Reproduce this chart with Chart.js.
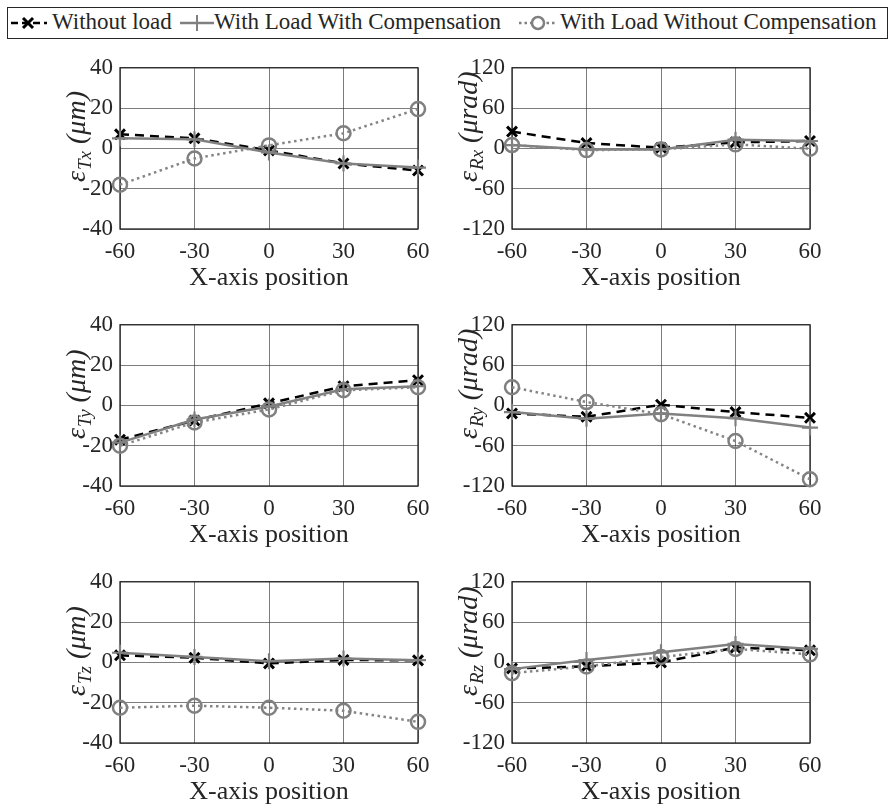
<!DOCTYPE html>
<html>
<head>
<meta charset="utf-8">
<script src="https://cdn.jsdelivr.net/npm/chart.js@4.4.0/dist/chart.umd.min.js"></script>
<style>
  body { margin: 0; background: #fff; }
  #page { position: relative; width: 891px; height: 808px; overflow: hidden; font-family: "Liberation Serif", "Times New Roman", Times, "DejaVu Serif", serif; color: #262626; }
  .cell { position: absolute; }
  #legend { position: absolute; left: 7px; top: 7px; width: 879px; height: 30px; border: 1px solid #262626; background: #fff; }
  .lg-item { position: absolute; top: -1px; height: 30px; line-height: 30px; font-size: 23px; white-space: nowrap; }
  .lg-item svg { position: absolute; top: 1px; }
</style>
</head>
<body>
<div id="page">
  <div id="legend">
    <div class="lg-item" style="left:2px"><svg width="38" height="30"><line x1="1" y1="15" x2="37" y2="15" stroke="#000" stroke-width="2.5" stroke-dasharray="7,4"/><line x1="13" y1="10" x2="23" y2="20" stroke="#000" stroke-width="3"/><line x1="23" y1="10" x2="13" y2="20" stroke="#000" stroke-width="3"/></svg></div>
    <div class="lg-item" style="left:44px">Without load</div>
    <div class="lg-item" style="left:171px"><svg width="36" height="30"><line x1="1" y1="15" x2="35" y2="15" stroke="#808080" stroke-width="2.5"/><line x1="18" y1="7" x2="18" y2="23" stroke="#808080" stroke-width="2"/></svg></div>
    <div class="lg-item" style="left:206px">With Load With Compensation</div>
    <div class="lg-item" style="left:510px"><svg width="40" height="30"><line x1="1" y1="15" x2="39" y2="15" stroke="#808080" stroke-width="2.5" stroke-dasharray="2.5,3"/><circle cx="20" cy="15" r="6" fill="#fff" stroke="#808080" stroke-width="2.5"/></svg></div>
    <div class="lg-item" style="left:552px">With Load Without Compensation</div>
  </div>
  <div class="cell" style="left:0px;top:47px;width:440px;height:256px"><canvas id="cTx"></canvas></div>
  <div class="cell" style="left:440px;top:47px;width:392px;height:256px"><canvas id="cRx"></canvas></div>
  <div class="cell" style="left:0px;top:304px;width:440px;height:256px"><canvas id="cTy"></canvas></div>
  <div class="cell" style="left:440px;top:304px;width:392px;height:256px"><canvas id="cRy"></canvas></div>
  <div class="cell" style="left:0px;top:561px;width:440px;height:256px"><canvas id="cTz"></canvas></div>
  <div class="cell" style="left:440px;top:561px;width:392px;height:256px"><canvas id="cRz"></canvas></div>
</div>
<script>
// X-axis positions
const positions = [-60, -30, 0, 30, 60];

// translational errors (um)
const txNoLoad = [7, 5, -1, -7.5, -11];
const txWithComp = [5, 4.5, -2, -7.5, -9.5];
const txWithoutComp = [-18, -5, 1.5, 7.5, 19.5];

const tyNoLoad = [-17, -7.5, 1, 9.5, 12.5];
const tyWithComp = [-18.5, -7, -0.5, 8, 9.5];
const tyWithoutComp = [-20, -8.5, -2, 7.5, 9];

const tzNoLoad = [3.5, 2.3, -0.5, 1.2, 1];
const tzWithComp = [4.8, 2.7, 0.6, 1.9, 1.1];
const tzWithoutComp = [-22.5, -21.5, -22.5, -24, -29.5];

// rotational errors (urad)
const rxNoLoad = [25, 8, 1, 9, 11];
const rxWithComp = [5, -1.5, -1.5, 13, 11];
const rxWithoutComp = [5, -2.5, -1.5, 6, -0.5];

const ryNoLoad = [-12, -17, 1, -10, -18.5];
const ryWithComp = [-10, -20, -12, -19, -33];
const ryWithoutComp = [27, 5, -13, -53, -110];

const rzNoLoad = [-9, -6, 0, 22, 18];
const rzWithComp = [-10, 3.5, 15, 27.5, 20];
const rzWithoutComp = [-16, -6, 8, 20, 12];

const serif = "'Liberation Serif', 'Times New Roman', Times, 'DejaVu Serif', serif";
const tickFont = { family: serif, size: 23 };
const axisColor = "#262626";

function toPoints(arr) {
    return positions.map((x, i) => ({ x: x, y: arr[i] }));
}

// box around plot area (drawn under the data, like matlab)
const boxPlugin = {
    id: "box",
    beforeDatasetsDraw(chart) {
        const a = chart.chartArea;
        const ctx = chart.ctx;
        ctx.save();
        ctx.strokeStyle = axisColor;
        ctx.lineWidth = 1.3;
        ctx.strokeRect(a.left, a.top, a.right - a.left, a.bottom - a.top);
        ctx.restore();
    }
};

// rotated y label with subscript
const yLabelPlugin = {
    id: "ylab",
    afterDraw(chart, args, opts) {
        const a = chart.chartArea;
        const ctx = chart.ctx;
        ctx.save();
        ctx.translate(a.left - 35, a.bottom - 47);
        ctx.rotate(-Math.PI / 2);
        ctx.fillStyle = axisColor;
        ctx.textBaseline = "alphabetic";
        ctx.textAlign = "left";
        let x = 0;
        ctx.font = "italic 28px " + serif;
        ctx.fillText("\u03b5", x, 0);
        x += ctx.measureText("\u03b5").width + 1;
        ctx.font = "italic 19px " + serif;
        ctx.fillText(opts.sub, x, 6);
        x += ctx.measureText(opts.sub).width + 7;
        ctx.font = "italic 28px " + serif;
        ctx.fillText(opts.unit, x, 0);
        ctx.restore();
    }
};

function makeChart(id, noLoad, withComp, withoutComp, yLim, yStep, sub, unit, axisWidth) {
    return new Chart(document.getElementById(id), {
        type: "line",
        data: {
            datasets: [
                {
                    label: "Without load",
                    data: toPoints(noLoad),
                    borderColor: "#000",
                    borderWidth: 2.5,
                    borderDash: [9, 6],
                    pointStyle: "crossRot",
                    pointRadius: 7,
                    pointBorderWidth: 3,
                    pointBorderColor: "#000",
                    clip: false,
                    order: 3
                },
                {
                    label: "With Load With Compensation",
                    data: toPoints(withComp),
                    borderColor: "#808080",
                    borderWidth: 2.5,
                    pointStyle: "cross",
                    pointRadius: 8,
                    pointBorderWidth: 2.2,
                    pointBorderColor: "#808080",
                    clip: false,
                    order: 2
                },
                {
                    label: "With Load Without Compensation",
                    data: toPoints(withoutComp),
                    borderColor: "#858585",
                    borderWidth: 2.5,
                    borderDash: [2.5, 3.5],
                    pointStyle: "circle",
                    pointRadius: 7,
                    pointBorderWidth: 2.5,
                    pointBorderColor: "#808080",
                    pointBackgroundColor: "rgba(0,0,0,0)",
                    clip: false,
                    order: 1
                }
            ]
        },
        options: {
            responsive: true,
            maintainAspectRatio: false,
            animation: false,
            devicePixelRatio: 1,
            layout: { padding: { top: 16, right: 22, bottom: 4, left: 0 } },
            plugins: {
                legend: { display: false },
                tooltip: { enabled: false },
                ylab: { sub: sub, unit: unit }
            },
            scales: {
                x: {
                    type: "linear",
                    min: -60,
                    max: 60,
                    ticks: { stepSize: 30, font: tickFont, color: axisColor, padding: 9 },
                    grid: { color: "rgba(38,38,38,0.6)", drawTicks: false },
                    border: { display: false },
                    title: {
                        display: true,
                        text: "X-axis position",
                        font: { family: serif, size: 26 },
                        color: axisColor,
                        padding: { top: 0, bottom: 5 }
                    },
                    afterFit(scale) { scale.height = 70; }
                },
                y: {
                    min: -yLim,
                    max: yLim,
                    ticks: { stepSize: yStep, font: tickFont, color: axisColor, padding: 7 },
                    grid: { color: "rgba(38,38,38,0.6)", drawTicks: false },
                    border: { display: false },
                    afterFit(scale) { scale.width = axisWidth; }
                }
            }
        },
        plugins: [boxPlugin, yLabelPlugin]
    });
}

makeChart("cTx", txNoLoad, txWithComp, txWithoutComp, 40, 20, "Tx", "(\u03bcm)", 120);
makeChart("cRx", rxNoLoad, rxWithComp, rxWithoutComp, 120, 60, "Rx", "(\u03bcrad)", 72);
makeChart("cTy", tyNoLoad, tyWithComp, tyWithoutComp, 40, 20, "Ty", "(\u03bcm)", 120);
makeChart("cRy", ryNoLoad, ryWithComp, ryWithoutComp, 120, 60, "Ry", "(\u03bcrad)", 72);
makeChart("cTz", tzNoLoad, tzWithComp, tzWithoutComp, 40, 20, "Tz", "(\u03bcm)", 120);
makeChart("cRz", rzNoLoad, rzWithComp, rzWithoutComp, 120, 60, "Rz", "(\u03bcrad)", 72);
</script>
</body>
</html>
